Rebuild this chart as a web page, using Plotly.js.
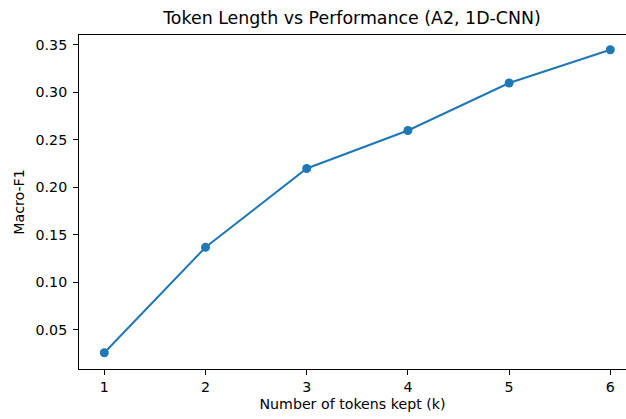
<!DOCTYPE html>
<html>
<head>
<meta charset="utf-8">
<script src="https://cdn.plot.ly/plotly-3.0.1.min.js"></script>
<style>html,body{margin:0;padding:0;background:#fff;}#chart{width:626px;height:419px;}</style>
</head>
<body>
<div id="chart"></div>
<script>
const tokensKept = [1, 2, 3, 4, 5, 6];
const macroF1 = [0.026, 0.137, 0.220, 0.260, 0.310, 0.345];
const xTickVals = [1, 2, 3, 4, 5, 6];
const yTickVals = [0.05, 0.10, 0.15, 0.20, 0.25, 0.30, 0.35];
const yTickText = ["0.05", "0.10", "0.15", "0.20", "0.25", "0.30", "0.35"];

const trace = {
  x: tokensKept,
  y: macroF1,
  type: 'scatter',
  mode: 'lines+markers',
  line: {color: '#1f77b4', width: 2},
  marker: {color: '#1f77b4', size: 9},
  showlegend: false,
  hoverinfo: 'x+y'
};

const font = {family: 'DejaVu Sans, sans-serif', color: '#000'};
const fs = 14.2;

const layout = {
  width: 626, height: 419,
  margin: {l: 79, r: 0, t: 35, b: 50, pad: 0},
  paper_bgcolor: '#fff', plot_bgcolor: '#fff',
  font: Object.assign({size: fs}, font),
  title: {
    text: 'Token Length vs Performance (A2, 1D-CNN)',
    font: Object.assign({size: 17.4}, font),
    xref: 'container', x: 352/626, xanchor: 'center',
    yref: 'container', y: 1 - 18/419, yanchor: 'middle'
  },
  xaxis: {
    range: [0.75, 6.155],
    tickmode: 'array', tickvals: xTickVals, ticktext: xTickVals.map(String),
    ticks: 'outside', ticklen: 5, tickwidth: 1, tickcolor: '#000',
    showline: true, linecolor: '#000', linewidth: 1, mirror: true,
    showgrid: false, zeroline: false,
    tickfont: Object.assign({size: fs}, font),
    title: {text: 'Number of tokens kept (k)', font: Object.assign({size: fs}, font), standoff: 5},
    automargin: false
  },
  yaxis: {
    range: [0.0089, 0.3605],
    tickmode: 'array', tickvals: yTickVals, ticktext: yTickText,
    ticks: 'outside', ticklen: 5, tickwidth: 1, tickcolor: '#000',
    ticklabelstandoff: 3,
    showline: true, linecolor: '#000', linewidth: 1, mirror: false,
    showgrid: false, zeroline: false,
    tickfont: Object.assign({size: fs}, font),
    title: {text: 'Macro-F1', font: Object.assign({size: fs}, font), standoff: 7},
    automargin: false
  }
};

Plotly.newPlot('chart', [trace], layout, {displayModeBar: false, staticPlot: false});
</script>
</body>
</html>
